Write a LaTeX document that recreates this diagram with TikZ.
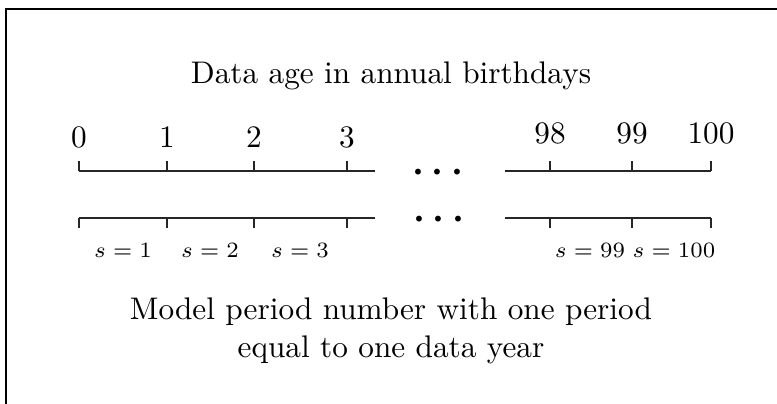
\documentclass[tikz,border=0pt]{standalone}

\begin{document}
\begin{tikzpicture}[x=0.01125cm,y=-0.01125cm,
  axis/.style={draw=black!85,line width=0.95pt},
  frame/.style={draw=black,line width=0.45pt},
  num/.style={font=\normalsize,anchor=base,inner sep=0pt},
  period/.style={font=\fontsize{7.2}{9}\selectfont,anchor=base,inner sep=0pt},
  caption/.style={font=\normalsize,align=center,inner sep=0pt},
  gap/.style={font=\fontsize{13}{15}\selectfont\boldmath,anchor=base,inner sep=0pt},
]
\useasboundingbox (0,0) rectangle (777,404);
\draw[frame] (6,420) |- (790,9);

\node[caption,anchor=base] (title) at (391,84) {Data age in annual birthdays};

% tick points on both axes
\foreach \n/\x in {0/79,1/167,2/254,3/347} {
  \coordinate (u\n) at (\x,171);
  \coordinate (l\n) at (\x,218);
  \node[num] (age\n) at (\x,148) {\n};
}
\foreach \n/\x in {98/550,99/632,100/711} {
  \coordinate (u\n) at (\x,171);
  \coordinate (l\n) at (\x,218);
  \node[num] (age\n) at (\x,144) {\n};
}
\coordinate (uend) at (375,171);
\coordinate (ustart) at (505,171);
\coordinate (lend) at (375,218);
\coordinate (lstart) at (505,218);

\draw[axis] (u0) -- (uend);
\draw[axis] (ustart) -- (u100);
\draw[axis] (l0) -- (lend);
\draw[axis] (lstart) -- (l100);
\foreach \n in {0,1,2,3,98,99,100} {
  \draw[axis] (u\n) -- ++(0,-10);
  \draw[axis] (l\n) -- ++(0,10);
}

\node[gap] (gapu) at (438,182) {$\cdots$};
\node[gap] (gapl) at (439,229) {$\cdots$};

\node[period] (s1) at (123,258) {$s=1$};
\node[period] (s2) at (210,258) {$s=2$};
\node[period] (s3) at (300,258) {$s=3$};
\node[period] (s99) at (590,258) {$s=99$};
\node[period] (s100) at (674,258) {$s=100$};

\node[caption] (model) at (391,331)
  {Model period number with one period\\equal to one data year};
\end{tikzpicture}
\end{document}
